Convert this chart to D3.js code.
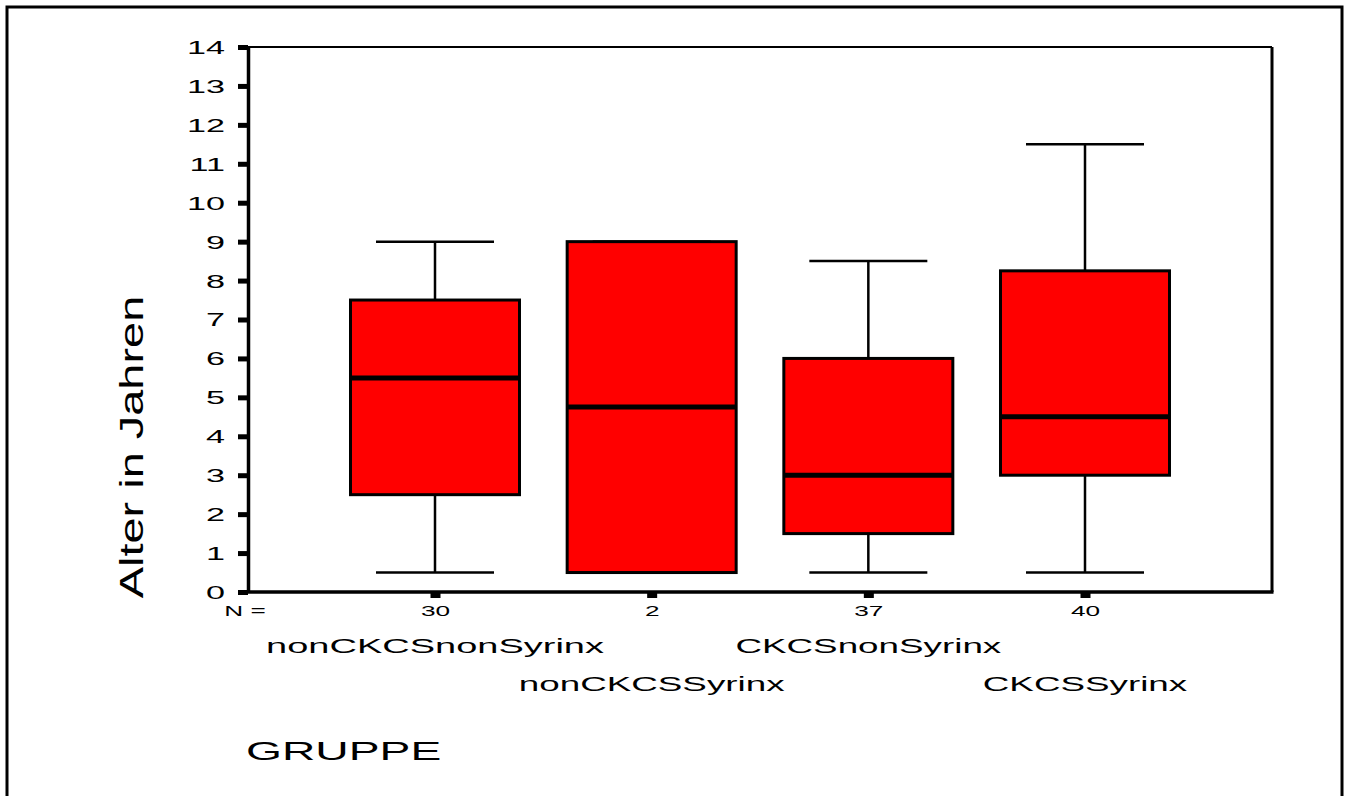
<!DOCTYPE html>
<html>
<head>
<meta charset="utf-8">
<title>Alter in Jahren nach GRUPPE</title>
<script src="https://cdn.jsdelivr.net/npm/d3@7"></script>
<style>
  body { margin: 0; background: #fff; }
  svg { font-family: Arial, "Liberation Sans", Helvetica, sans-serif; }
</style>
</head>
<body>
<div id="chart"></div>
<script>
// groups and their counts
var groups = ["nonCKCSnonSyrinx", "nonCKCSSyrinx", "CKCSnonSyrinx", "CKCSSyrinx"];
var counts = [30, 2, 37, 40];
// box values
var whiskerLow = [0.5, 0.5, 0.5, 0.5];
var q1 = [2.5, 0.5, 1.5, 3];
var median = [5.5, 4.75, 3, 4.5];
var q3 = [7.5, 9, 6, 8.25];
var whiskerHigh = [9, 9, 8.5, 11.5];
var yTicks = d3.range(0, 15);

var W = 1345, H = 796;
var stretch = 1.85; // the original text is drawn wide
var svg = d3.select("#chart").append("svg").attr("width", W).attr("height", H);

// outer frame
svg.append("rect").attr("x", 7).attr("y", 7).attr("width", 1335).attr("height", 800)
   .attr("fill", "none").attr("stroke", "#000").attr("stroke-width", 3);

var plotLeft = 248, plotRight = 1272, plotTop = 47, plotBottom = 592;

var y = d3.scaleLinear().domain([0, 14]).range([plotBottom, plotTop]);
var x = d3.scalePoint().domain(groups).range([435, 1085]);
var boxW = 169;

// wide text helper
function wideText(px, py, str, size, anchor, k) {
  return svg.append("text")
    .attr("transform", "translate(" + px + "," + py + ") scale(" + (k || stretch) + ",1)")
    .attr("text-anchor", anchor).attr("font-size", size).attr("fill", "#000").text(str);
}

// boxes
var g = svg.append("g");
groups.forEach(function(name, i) {
  var cx = x(name);
  g.append("line").attr("x1", cx).attr("x2", cx)
   .attr("y1", y(whiskerLow[i])).attr("y2", y(whiskerHigh[i]))
   .attr("stroke", "#000").attr("stroke-width", 2.5);
  [whiskerLow[i], whiskerHigh[i]].forEach(function(v) {
    g.append("line").attr("x1", cx - 59).attr("x2", cx + 59)
     .attr("y1", y(v)).attr("y2", y(v))
     .attr("stroke", "#000").attr("stroke-width", 2.5);
  });
  g.append("rect").attr("x", cx - boxW / 2).attr("width", boxW)
   .attr("y", y(q3[i])).attr("height", y(q1[i]) - y(q3[i]))
   .attr("fill", "#ff0000").attr("stroke", "#000").attr("stroke-width", 3);
  g.append("line").attr("x1", cx - boxW / 2).attr("x2", cx + boxW / 2)
   .attr("y1", y(median[i])).attr("y2", y(median[i]))
   .attr("stroke", "#000").attr("stroke-width", 5);
});

// plot frame
svg.append("line").attr("x1", plotLeft).attr("x2", plotRight).attr("y1", plotTop).attr("y2", plotTop)
   .attr("stroke", "#000").attr("stroke-width", 2);
svg.append("line").attr("x1", plotRight).attr("x2", plotRight).attr("y1", plotTop).attr("y2", plotBottom)
   .attr("stroke", "#000").attr("stroke-width", 3);

// y axis
var yAxis = d3.axisLeft(y).tickValues(yTicks).tickSize(0);
var ya = svg.append("g").attr("transform", "translate(" + plotLeft + ",0)").call(yAxis);
ya.select(".domain").attr("stroke", "#000").attr("stroke-width", 3.5);
ya.selectAll(".tick text")
  .attr("x", 0).attr("dy", "0.36em")
  .attr("transform", "translate(-23,0) scale(1.9,1)")
  .attr("font-size", 18).attr("fill", "#000")
  .attr("font-family", "Arial, 'Liberation Sans', sans-serif");
ya.selectAll(".tick").append("rect")
  .attr("x", -10).attr("y", -2.5).attr("width", 10).attr("height", 5).attr("fill", "#000");

// x axis with counts
var xAxis = d3.axisBottom(x).tickSize(0).tickFormat(function(d, i) { return counts[i]; });
var xa = svg.append("g").attr("transform", "translate(0," + plotBottom + ")").call(xAxis);
xa.select(".domain").remove();
xa.selectAll(".tick text")
  .attr("y", 0).attr("dy", 0)
  .attr("transform", "translate(0,24) scale(1.75,1)")
  .attr("font-size", 15).attr("fill", "#000")
  .attr("font-family", "Arial, 'Liberation Sans', sans-serif");
xa.selectAll(".tick").append("rect")
  .attr("x", -5).attr("y", 0).attr("width", 10).attr("height", 6).attr("fill", "#000");
svg.append("line").attr("x1", plotLeft - 2).attr("x2", plotRight + 1.5)
   .attr("y1", plotBottom).attr("y2", plotBottom)
   .attr("stroke", "#000").attr("stroke-width", 3.5);

wideText(245, 616, "N =", 15, "middle", 1.75);

// staggered group labels
groups.forEach(function(name, i) {
  wideText(x(name), i % 2 === 0 ? 653 : 691, name, 20, "middle", i === 0 ? 1.9 : 1.84);
});

wideText(246, 760, "GRUPPE", 25, "start", 1.85);

// y title, stretched along its length
svg.append("text").attr("transform", "translate(143,447) rotate(-90) scale(1.38,1)")
   .attr("text-anchor", "middle").attr("font-size", 34).text("Alter in Jahren");
</script>
</body>
</html>
